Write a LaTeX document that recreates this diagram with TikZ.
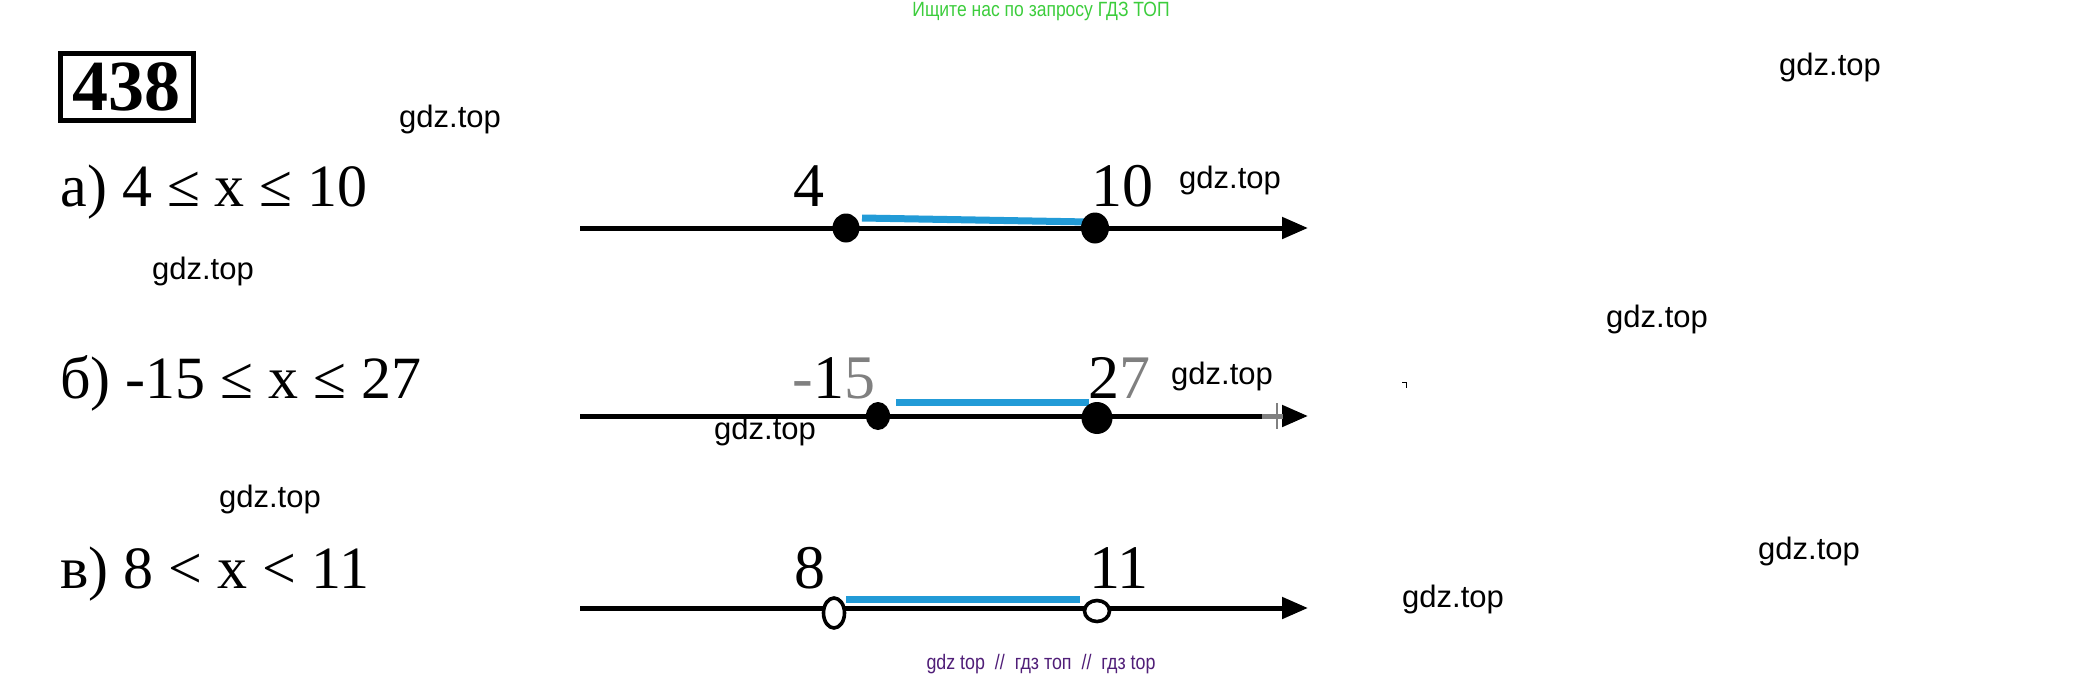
\documentclass[tikz,border=0pt]{standalone}
\usepackage{fontspec}
\setmainfont{Liberation Serif}
\newfontfamily\wmfont{Liberation Sans}
\newfontfamily\condfont[FakeStretch=0.85]{Liberation Sans}
\usetikzlibrary{arrows.meta,shapes.geometric}
\definecolor{segblue}{RGB}{34,155,215}
\definecolor{adgreen}{RGB}{60,205,60}
\definecolor{adpurple}{RGB}{80,30,120}
\tikzset{
  axis/.style={line width=2.5pt,-{Triangle[length=13pt,width=10.5pt]}},
  seg/.style={segblue,line width=3.5pt},
  fulldot/.style={ellipse,fill=black,inner sep=0pt},
  opendot/.style={ellipse,draw=black,line width=1.8pt,fill=white,inner sep=0pt},
  ineq/.style={anchor=base west,inner sep=0pt,font=\fontsize{30}{36}\selectfont},
  numlab/.style={anchor=base,inner sep=0pt,font=\fontsize{31}{36}\selectfont},
  wm/.style={font=\wmfont\fontsize{15.5}{18}\selectfont}
}
\begin{document}
\begin{tikzpicture}[x=0.5pt,y=-0.5pt]
\useasboundingbox[fill=white] (0,0) rectangle (2082,680);

\node[font=\condfont\fontsize{10.3}{12}\selectfont,text=adgreen] (adtop) at (1041,11) {Ищите нас по запросу ГДЗ ТОП};
\node[draw,line width=2.5pt,minimum width=66.5pt,minimum height=33.5pt,inner sep=0pt,
  font=\bfseries\fontsize{36}{40}\selectfont] (task) at (126.5,86.5) {438};

% а)
\node[ineq] (ineqa) at (60,206) {а) 4 ≤ x ≤ 10};
\coordinate (a0) at (580,228);
\coordinate (a1) at (1308,228);
\draw[axis] (a0) -- (a1);
\coordinate (sa0) at (862,218);
\coordinate (sa1) at (1089,222);
\draw[seg] (sa0) -- (sa1);
\node[fulldot,minimum width=13.5pt,minimum height=14.5pt] (pa4) at (846,228) {};
\node[fulldot,minimum width=14pt,minimum height=15.5pt] (pa10) at (1095,228) {};
\node[numlab] (la4) at (809,206) {4};
\node[numlab] (la10) at (1122,206) {10};

% б)
\node[ineq] (ineqb) at (60,398) {б) -15 ≤ x ≤ 27};
\coordinate (b0) at (580,416);
\coordinate (b1) at (1308,416);
\draw[axis] (b0) -- (b1);
\coordinate (g0) at (1262,416);
\coordinate (g1) at (1283,416);
\draw[gray,line width=2.5pt] (g0) -- (g1);
\coordinate (t0) at (1277,403);
\coordinate (t1) at (1277,429);
\draw[gray,line width=1.2pt] (t0) -- (t1);
\coordinate (sb0) at (896,402);
\coordinate (sb1) at (1089,402);
\draw[seg] (sb0) -- (sb1);
\node[fulldot,minimum width=12pt,minimum height=14pt] (pb15) at (878,416) {};
\node[fulldot,minimum width=15.5pt,minimum height=16pt] (pb27) at (1097,418) {};
\node[numlab] (lb15) at (834,398) {{\color{gray}-}1{\color{gray}5}};
\node[numlab] (lb27) at (1119,398) {2{\color{gray}7}};
\coordinate (m0) at (1402,382);
\coordinate (m1) at (1406,382);
\coordinate (m2) at (1406,388);
\draw[line width=0.5pt] (m0) -- (m1) -- (m2);

% в)
\node[ineq] (ineqc) at (60,588) {в) 8 < x < 11};
\coordinate (c0) at (580,608);
\coordinate (c1) at (1308,608);
\draw[axis] (c0) -- (c1);
\coordinate (sc0) at (846,599);
\coordinate (sc1) at (1080,599);
\draw[seg] (sc0) -- (sc1);
\node[opendot,minimum width=10.5pt,minimum height=15pt] (pc8) at (834,613) {};
\node[opendot,minimum width=12.5pt,minimum height=10.5pt] (pc11) at (1097,611) {};
\node[numlab] (lc8) at (810,588) {8};
\node[numlab] (lc11) at (1119,588) {11};

% watermarks
\foreach \wx/\wy [count=\i] in {1830/67,450/119,1230/180,203/271,1657/319,
    1222/376,765/431,270/499,1809/551,1453/599}
  \node[wm] (wm\i) at (\wx,\wy) {gdz.top};

\node[font=\condfont\fontsize{10.5}{12}\selectfont,text=adpurple] (adbot) at (1041,664)
  {gdz top \ // \ гдз топ \ // \ гдз top};
\end{tikzpicture}
\end{document}
